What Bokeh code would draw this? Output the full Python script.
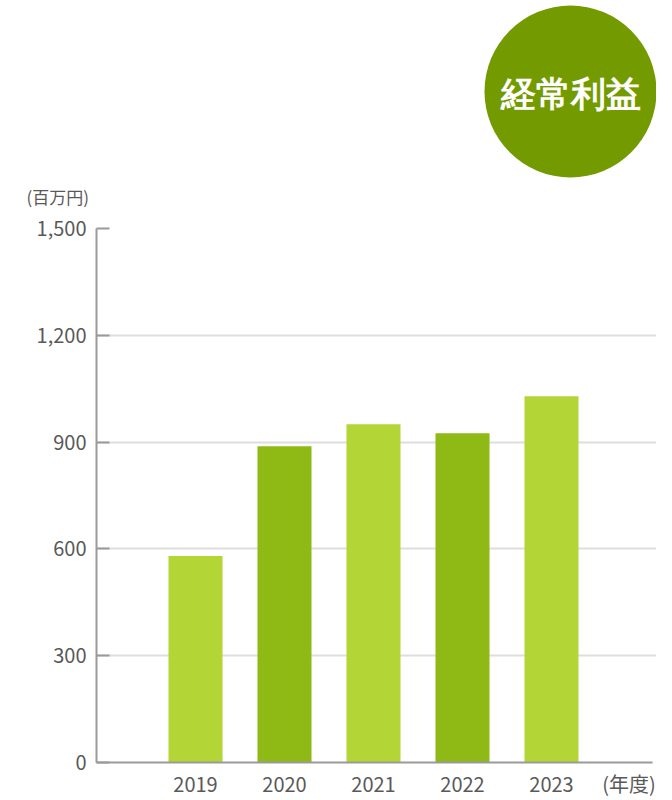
from bokeh.plotting import figure
from bokeh.layouts import column
from bokeh.models import Range1d, FixedTicker, NumeralTickFormatter
from bokeh.embed import file_html
from bokeh.resources import INLINE

# ---- data ----
years = [2019, 2020, 2021, 2022, 2023]
values = [580, 888, 950, 925, 1029]
bar_colors = ["#b3d535", "#8fb914", "#b3d535", "#8fb914", "#b3d535"]
y_ticks = [0, 300, 600, 900, 1200, 1500]
grid_ticks = [300, 600, 900, 1200]
title_text = "経常利益"
unit_text = "(百万円)"
year_unit_text = "(年度)"
year_unit_pos = 2023.87

FONT = "Noto Sans CJK JP"
TEXT_COLOR = "#595959"
AXIS_COLOR = "#9a9a9a"

# ---- top badge figure (x in pixel-like units, aligned with main frame) ----
top = figure(width=656, height=210, output_backend="svg", toolbar_location=None,
             x_range=Range1d(96, 656), y_range=Range1d(0, 180),
             min_border_left=96, min_border_right=0,
             min_border_top=0, min_border_bottom=30,
             outline_line_color=None,
             title=unit_text, title_location="below")
top.axis.visible = False
top.grid.visible = False
top.title.text_font = FONT
top.title.text_font_size = "17px"
top.title.text_font_style = "normal"
top.title.text_color = TEXT_COLOR
top.title.align = "left"
top.title.offset = -70
top.title.standoff = 2
top.circle(x=[570], y=[89], radius=86, fill_color="#739b00", line_color=None)
top.text(x=[570], y=[86], text=[title_text], text_color="white",
         text_font=FONT, text_font_size="35px", text_font_style="bold",
         text_align="center", text_baseline="middle")

# ---- main chart ----
p = figure(width=656, height=590, output_backend="svg", toolbar_location=None,
           x_range=Range1d(2019 - 99 / 89, 2023 + 105 / 89),
           y_range=Range1d(0, 1500),
           min_border_left=96, min_border_right=0,
           min_border_top=18, min_border_bottom=37,
           outline_line_color=None)

p.vbar(x=years, top=values, width=0.607, fill_color=bar_colors, line_color=None)

p.xgrid.visible = False
p.ygrid.ticker = FixedTicker(ticks=grid_ticks)
p.ygrid.grid_line_color = "#dedede"
p.ygrid.grid_line_width = 2

p.yaxis.ticker = FixedTicker(ticks=y_ticks)
p.yaxis.formatter = NumeralTickFormatter(format="0,0")
p.yaxis.axis_line_color = AXIS_COLOR
p.yaxis.axis_line_width = 2
p.yaxis.major_tick_line_color = AXIS_COLOR
p.yaxis.major_tick_line_width = 2
p.yaxis.major_tick_in = 13
p.yaxis.major_tick_out = 0
p.yaxis.minor_tick_line_color = None
p.yaxis.major_label_standoff = 10
p.yaxis.major_label_text_font = FONT
p.yaxis.major_label_text_font_size = "20px"
p.yaxis.major_label_text_color = TEXT_COLOR

p.xaxis.ticker = FixedTicker(ticks=years + [year_unit_pos])
p.xaxis.formatter = NumeralTickFormatter(format="0")
p.xaxis.major_label_overrides = {year_unit_pos: year_unit_text}
p.xaxis.bounds = (2019 - 99 / 89, 2023 + 101 / 89)
p.xaxis.axis_line_color = AXIS_COLOR
p.xaxis.axis_line_width = 2
p.xaxis.major_tick_line_color = None
p.xaxis.major_tick_in = 0
p.xaxis.major_tick_out = 0
p.xaxis.minor_tick_line_color = None
p.xaxis.major_label_standoff = 6
p.xaxis.major_label_text_font = FONT
p.xaxis.major_label_text_font_size = "20px"
p.xaxis.major_label_text_color = TEXT_COLOR

layout = column(top, p, spacing=0)
open("out.html", "w").write(file_html(layout, INLINE))
